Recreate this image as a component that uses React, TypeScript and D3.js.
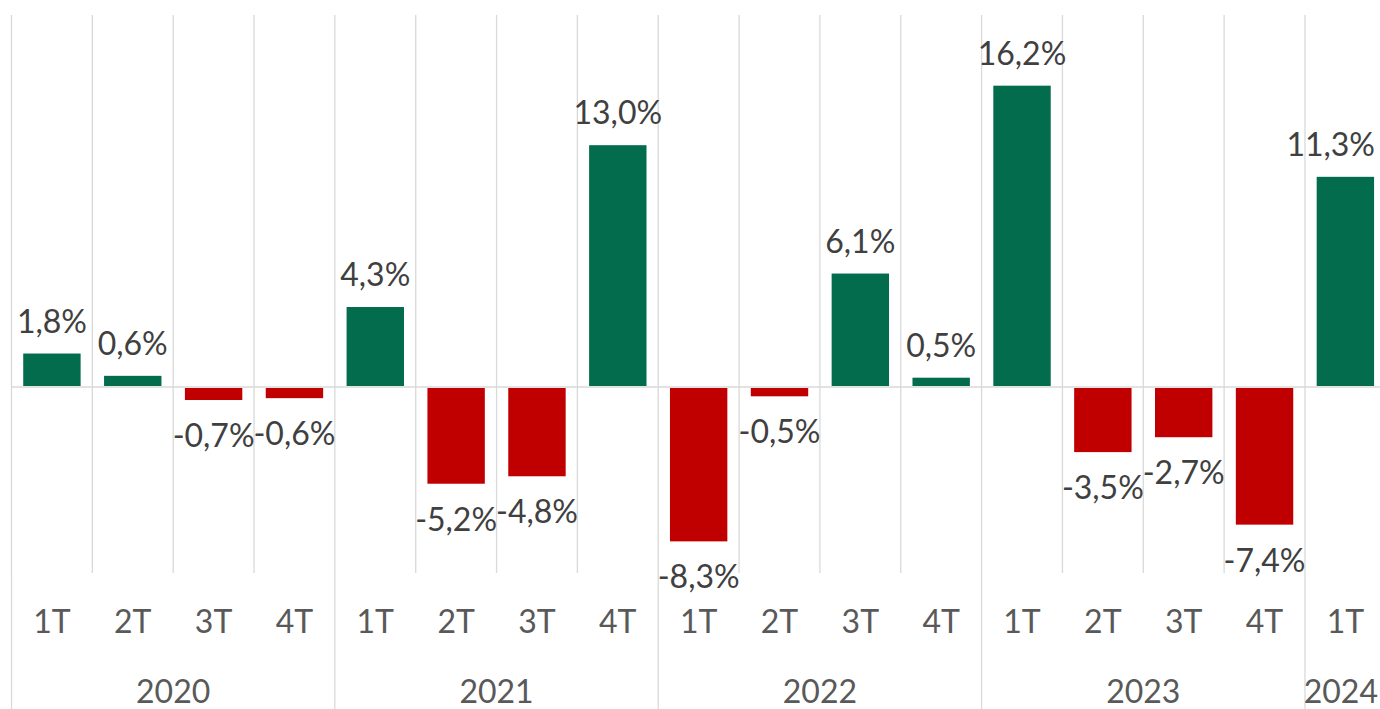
import React from "react";
import * as d3 from "d3";

const quarters = ["1T", "2T", "3T", "4T", "1T", "2T", "3T", "4T", "1T", "2T", "3T", "4T", "1T", "2T", "3T", "4T", "1T"];
const yearOfCat = ["2020", "2020", "2020", "2020", "2021", "2021", "2021", "2021", "2022", "2022", "2022", "2022", "2023", "2023", "2023", "2023", "2024"];
const years = ["2020", "2021", "2022", "2023", "2024"];
const values = [1.8, 0.6, -0.7, -0.6, 4.3, -5.2, -4.8, 13.0, -8.3, -0.5, 6.1, 0.5, 16.2, -3.5, -2.7, -7.4, 11.3];
const yDomain = [-10, 20];

const W = 1380;
const H = 709;
const X0 = 11.5;
const X1 = 1385.8;
const YTOP = 15;
const YBOT = 573;
const FONT = "Lato, 'Open Sans', sans-serif";
const GREEN = "#036c4c";
const RED = "#c00000";
const GRID = "#d9d9d9";
const FS = 32;

const fmt = (v: number) => v.toFixed(1).replace(".", ",") + "%";
const estWidth = (s: string) => s.length * 17.8;

export default function App() {
  const idx = values.map((_, i) => i);
  const xCat = d3.scaleBand<number>().domain(idx).range([X0, X1]).padding(0);
  const xBar = d3.scaleBand<number>().domain(idx).range([X0, X1]).paddingInner(0.29).paddingOuter(0.145);
  const y = d3.scaleLinear().domain(yDomain).range([YBOT, YTOP]);
  const step = xCat.step();

  const groups = years.map((yr) => {
    const cats = idx.filter((i) => yearOfCat[i] === yr);
    const start = xCat(cats[0])!;
    const end = xCat(cats[cats.length - 1])! + step;
    return { yr, start, end };
  });

  return (
    <svg width={W} height={H} style={{ position: "absolute", left: 0, top: 0, background: "#fff" }}>
      {idx.map((i) => (
        <line key={"g" + i} x1={xCat(i)!} x2={xCat(i)!} y1={YTOP} y2={YBOT} stroke={GRID} strokeWidth={1.3} />
      ))}
      {groups.map((g) => (
        <line key={"ys" + g.yr} x1={g.start} x2={g.start} y1={YBOT} y2={H} stroke={GRID} strokeWidth={1.3} />
      ))}
      <line x1={X0} x2={X1} y1={y(0)} y2={y(0)} stroke={GRID} strokeWidth={1.3} />
      {values.map((v, i) => (
        <rect
          key={"b" + i}
          x={xBar(i)!}
          width={xBar.bandwidth()}
          y={v >= 0 ? y(v) : y(0) + 1}
          height={Math.abs(y(v) - y(0)) - 1}
          fill={v >= 0 ? GREEN : RED}
        />
      ))}
      {values.map((v, i) => {
        const label = fmt(v);
        const cx = xBar(i)! + xBar.bandwidth() / 2;
        const tooFar = cx + estWidth(label) / 2 > W - 4;
        return (
          <text
            key={"l" + i}
            x={tooFar ? W - 5 : cx}
            y={v >= 0 ? y(v) - 21 : y(v) + 47}
            textAnchor={tooFar ? "end" : "middle"}
            fontFamily={FONT}
            fontSize={FS}
            fill="#404040"
          >
            {label}
          </text>
        );
      })}
      {quarters.map((q, i) => (
        <text
          key={"q" + i}
          x={xCat(i)! + step / 2}
          y={633}
          textAnchor="middle"
          fontFamily={FONT}
          fontSize={FS}
          fill="#595959"
        >
          {q}
        </text>
      ))}
      {groups.map((g) => {
        const cx = (g.start + g.end) / 2;
        const tooFar = cx + estWidth(g.yr) / 2 > W - 1;
        return (
          <text
            key={"y" + g.yr}
            x={tooFar ? W - 2 : cx}
            y={703}
            textAnchor={tooFar ? "end" : "middle"}
            fontFamily={FONT}
            fontSize={FS}
            fill="#595959"
          >
            {g.yr}
          </text>
        );
      })}
    </svg>
  );
}
